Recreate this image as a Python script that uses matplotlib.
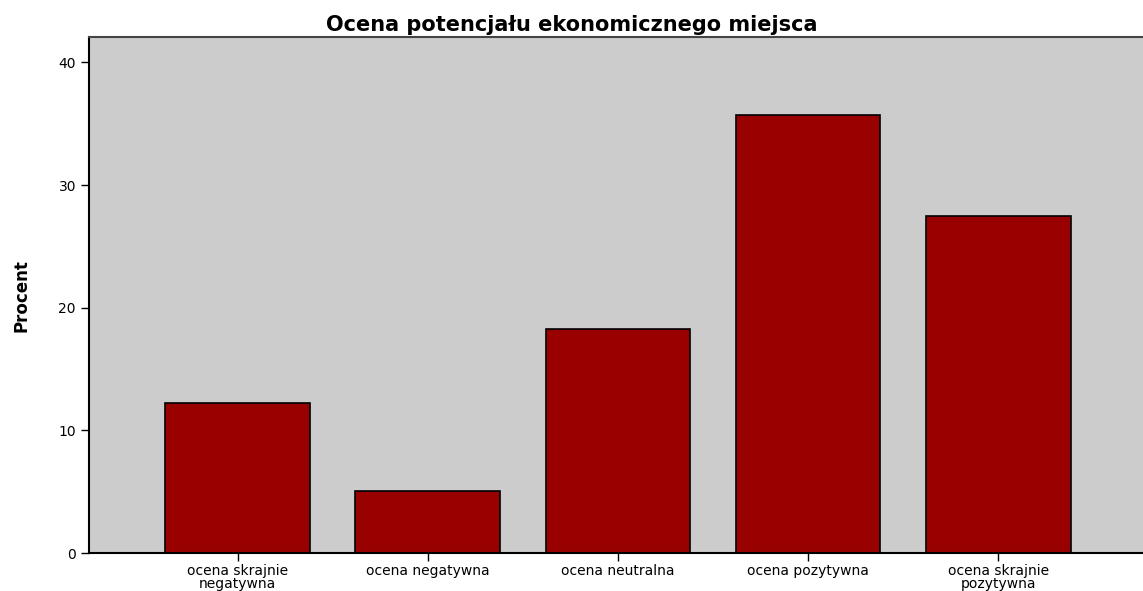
import matplotlib
matplotlib.use("Agg")
import matplotlib.pyplot as plt
import numpy as np

categories = [
    "ocena skrajnie\nnegatywna",
    "ocena negatywna",
    "ocena neutralna",
    "ocena pozytywna",
    "ocena skrajnie\npozytywna",
]
percent = [12.2, 5.1, 18.3, 35.7, 27.5]
y_ticks = [0, 10, 20, 30, 40]

fig = plt.figure(figsize=(11.43, 5.91), dpi=100)
ax = fig.add_axes([0.078, 0.064, 0.922, 0.873])
ax.set_facecolor("#cccccc")

x = np.arange(len(categories))
ax.bar(x, percent, width=0.76, color="#990000", edgecolor="black", linewidth=1.2, zorder=2)

ax.set_xlim(-0.78, 4.76)
ax.set_ylim(0, 42.05)
ax.set_yticks(y_ticks)
ax.set_xticks(x)
ax.set_xticklabels(categories, fontsize=10, linespacing=0.9)
ax.tick_params(axis="y", labelsize=10, length=6, width=1)
ax.tick_params(axis="x", length=6, width=1, pad=2)

for side in ["left", "bottom"]:
    ax.spines[side].set_linewidth(1.5)
    ax.spines[side].set_color("black")
ax.spines["top"].set_color("#444444")
ax.spines["top"].set_linewidth(1.5)
ax.spines["right"].set_visible(False)

ax.set_ylabel("Procent", fontsize=12, fontweight="bold", labelpad=20)
# title is centred on the figure, not the axes
fig.text(0.5, 0.975, "Ocena potencjału ekonomicznego miejsca", ha="center", va="top",
         fontsize=15, fontweight="bold")

fig.savefig("out.png", dpi=100)
